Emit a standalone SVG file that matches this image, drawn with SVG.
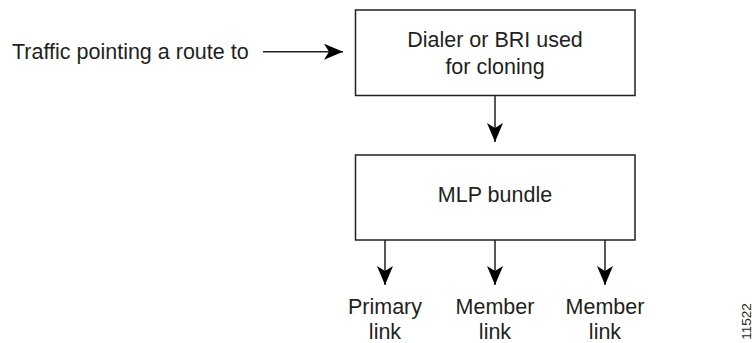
<svg xmlns="http://www.w3.org/2000/svg" width="752" height="343" viewBox="0 0 752 343">
<style>
text{font-family:"Liberation Sans",Arial,sans-serif;font-size:21.5px;fill:#231f20}
.c{text-anchor:middle}
.box{fill:#fff;stroke:#231f20;stroke-width:1.5}
.ln{stroke:#231f20;stroke-width:1.5;fill:none;marker-end:url(#ah)}
</style>
<defs>
<marker id="ah" markerUnits="userSpaceOnUse" markerWidth="20" markerHeight="16" viewBox="0 0 20 16" refX="19" refY="8" orient="auto">
<path d="M0,0 L19,8 L0,16 L5,8 Z" fill="#000"/>
</marker>
</defs>
<rect width="752" height="343" fill="#fff"/>
<g id="source">
<text x="12" y="59">Traffic pointing a route to</text>
</g>
<g id="dialer">
<rect class="box" x="355.5" y="10" width="279.5" height="85.5"/>
<text class="c" x="495" y="47">Dialer or BRI used</text>
<text class="c" x="495" y="74">for cloning</text>
</g>
<g id="mlp">
<rect class="box" x="355.5" y="155" width="279.5" height="85"/>
<text class="c" x="495" y="202">MLP bundle</text>
</g>
<g id="primary">
<text class="c" x="385" y="314">Primary</text>
<text class="c" x="385" y="339">link</text>
</g>
<g id="member1">
<text class="c" x="495" y="314">Member</text>
<text class="c" x="495" y="339">link</text>
</g>
<g id="member2">
<text class="c" x="605" y="314">Member</text>
<text class="c" x="605" y="339">link</text>
</g>
<g id="connectors">
<line class="ln" x1="263" y1="51.7" x2="343" y2="51.7"/>
<line class="ln" x1="495" y1="95.5" x2="495" y2="142"/>
<line class="ln" x1="385" y1="240" x2="385" y2="285"/>
<line class="ln" x1="495" y1="240" x2="495" y2="285"/>
<line class="ln" x1="605" y1="240" x2="605" y2="285"/>
</g>
<text transform="translate(750.5,321.5) rotate(-90)" class="c" style="font-size:13.5px">11522</text>
</svg>
